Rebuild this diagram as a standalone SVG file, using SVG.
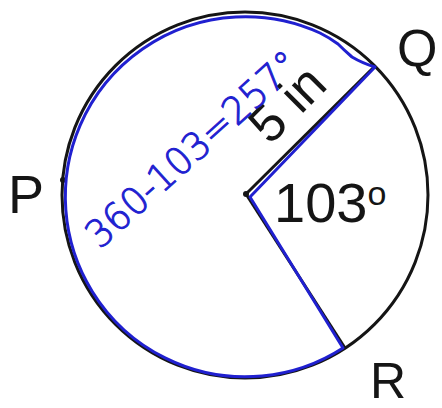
<svg xmlns="http://www.w3.org/2000/svg" width="442" height="408" viewBox="0 0 442 408">
<style>
.blk{fill:none;stroke:#151515;stroke-width:3}
.blu{fill:none;stroke:#2020d0;stroke-width:3;stroke-linejoin:round;stroke-linecap:round}
.lbl{font-family:"Liberation Sans",Arial,sans-serif;fill:#151515}
.hand{font-family:"DejaVu Sans","Liberation Sans",sans-serif;font-weight:200;fill:#2020d0;stroke:#2020d0;stroke-width:1}
</style>
<rect width="442" height="408" fill="#ffffff"/>
<g id="circle">
<circle class="blk" cx="245" cy="195" r="183"/>
</g>
<g id="connectors">
<line class="blk" x1="246" y1="194" x2="375" y2="66"/>
<line class="blk" x1="246" y1="194" x2="345" y2="348"/>
<circle cx="246" cy="194" r="3" fill="#151515"/>
</g>
<g id="point-P">
<circle cx="63" cy="180" r="3" fill="#151515"/>
<text class="lbl" x="8" y="213" font-size="54">P</text>
</g>
<g id="point-Q">
<text class="lbl" x="397" y="66" font-size="52">Q</text>
</g>
<g id="point-R">
<text class="lbl" x="370" y="398" font-size="50">R</text>
</g>
<g id="angle">
<text class="lbl" x="274" y="222" font-size="56">103<tspan font-size="34" dy="-17">o</tspan></text>
</g>
<g id="radius-label">
<text class="lbl" font-size="52" transform="translate(270,146) rotate(-45)">5 in</text>
</g>
<g id="annotation">
<path class="blu" d="M375,67 Q362,63 352,57 Q344,50 338,44 Q330,38 320,33 A180 180 0 1 0 343,348 L250,197 L375,67"/>
<text class="hand" font-size="38" textLength="272" lengthAdjust="spacingAndGlyphs" transform="translate(100,250) rotate(-42)">360-103=257°</text>
</g>
</svg>
